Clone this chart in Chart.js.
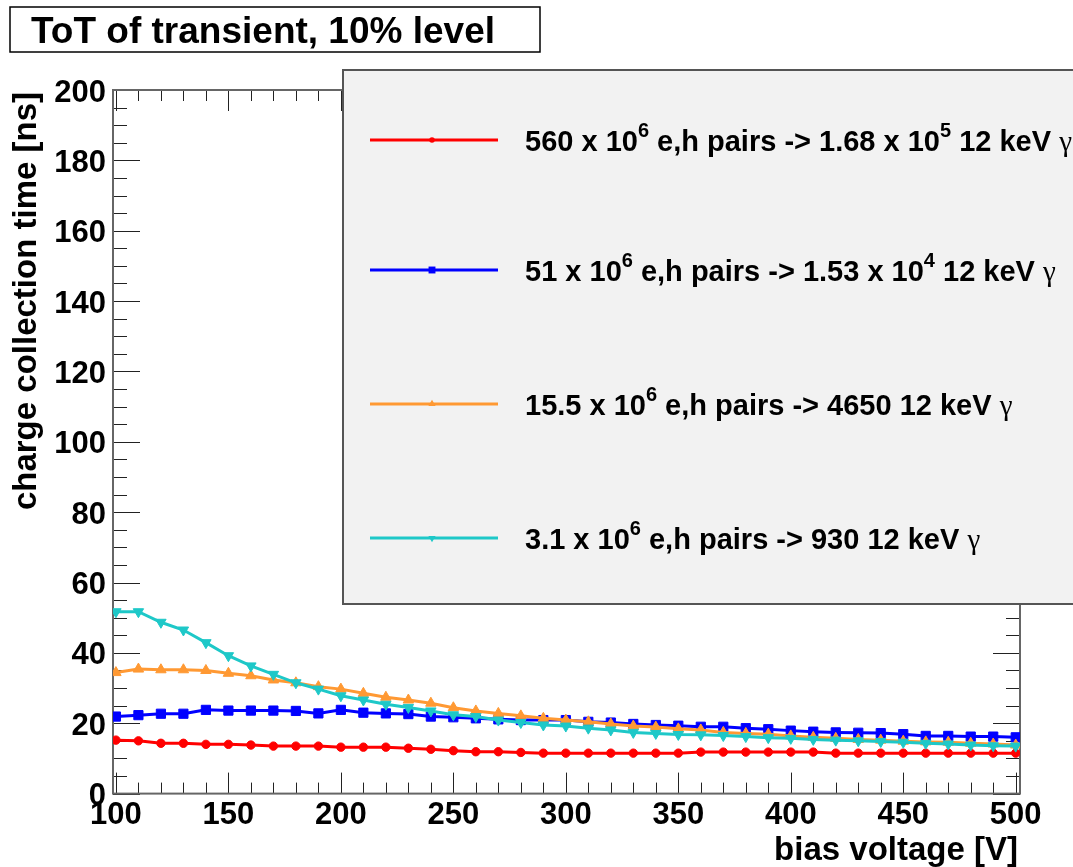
<!DOCTYPE html>
<html>
<head>
<meta charset="utf-8">
<title>ToT of transient, 10% level</title>
<script src="https://cdn.jsdelivr.net/npm/chart.js@4.4.1/dist/chart.umd.min.js"></script>
<style>
  html, body { margin: 0; padding: 0; background: #fff; }
  canvas { display: block; }
</style>
</head>
<body>
<canvas id="tot" width="1073" height="867"></canvas>
<script>
// bias voltage scan [V]
const voltages = [100, 110, 120, 130, 140, 150, 160, 170, 180, 190,
                  200, 210, 220, 230, 240, 250, 260, 270, 280, 290,
                  300, 310, 320, 330, 340, 350, 360, 370, 380, 390,
                  400, 410, 420, 430, 440, 450, 460, 470, 480, 490, 500];

// charge collection time [ns] for each injected charge
const tot560 = [15.2, 15.0, 14.3, 14.3, 14.0, 14.0, 13.8, 13.5, 13.5, 13.5,
                13.2, 13.2, 13.2, 12.9, 12.6, 12.2, 11.9, 11.9, 11.7, 11.5,
                11.5, 11.5, 11.5, 11.5, 11.5, 11.5, 11.8, 11.8, 11.8, 11.8,
                11.8, 11.8, 11.5, 11.5, 11.5, 11.5, 11.5, 11.5, 11.5, 11.5, 11.5];
const tot51 = [21.9, 22.3, 22.7, 22.7, 23.8, 23.6, 23.6, 23.6, 23.5, 22.8,
               23.8, 23.0, 22.8, 22.6, 21.9, 21.7, 21.4, 21.1, 20.9, 20.9,
               20.9, 20.4, 20.2, 19.8, 19.5, 19.3, 19.0, 19.0, 18.6, 18.3,
               17.9, 17.6, 17.4, 17.3, 17.2, 16.9, 16.4, 16.4, 16.2, 16.2, 16.0];
const tot15 = [34.4, 35.4, 35.2, 35.2, 35.0, 34.2, 33.5, 32.3, 31.5, 30.4,
               29.7, 28.5, 27.4, 26.6, 25.7, 24.4, 23.5, 22.8, 22.1, 21.4,
               20.9, 20.4, 19.8, 19.2, 18.9, 18.4, 18.1, 17.4, 17.1, 16.9,
               16.4, 16.0, 15.7, 15.4, 15.2, 14.9, 14.7, 14.6, 14.3, 14.1, 13.8];
const tot3 = [51.7, 51.7, 48.7, 46.5, 42.9, 39.2, 36.3, 33.9, 31.5, 29.7,
              27.8, 26.6, 25.4, 24.5, 23.5, 22.4, 21.9, 20.9, 20.2, 19.5,
              19.2, 18.6, 18.1, 17.4, 17.1, 16.8, 16.7, 16.5, 16.2, 15.9,
              15.7, 15.4, 15.2, 15.0, 14.8, 14.6, 14.3, 14.1, 13.8, 13.6, 13.5];

const seriesLabels = [
  "560 x 10^6 e,h pairs -> 1.68 x 10^5 12 keV γ",
  "51 x 10^6 e,h pairs -> 1.53 x 10^4 12 keV γ",
  "15.5 x 10^6 e,h pairs -> 4650 12 keV γ",
  "3.1 x 10^6 e,h pairs -> 930 12 keV γ"
];

const xTicks = [100, 150, 200, 250, 300, 350, 400, 450, 500];
const yTicks = [0, 20, 40, 60, 80, 100, 120, 140, 160, 180, 200];

const titleText = "ToT of transient, 10% level";
const xTitle = "bias voltage [V]";
const yTitle = "charge collection time [ns]";

const FONT = '"Liberation Sans", Arial, Helvetica, sans-serif';

const styles = [
  { color: '#ff0000', point: 'circle', radius: 4.2, legendRadius: 2.8 },
  { color: '#0000ff', point: 'rect', radius: 6.5, legendRadius: 4.6 },
  { color: '#ff9933', point: 'triangle', radius: 6.0, legendRadius: 4.2 },
  { color: '#1ec8c8', point: 'triangleDown', radius: 6.0, legendRadius: 4.2 }
];
const seriesValues = [tot560, tot51, tot15, tot3];

const datasets = seriesValues.map((vals, i) => {
  const s = styles[i];
  const tri = s.point === 'triangleDown';
  return {
    label: seriesLabels[i],
    data: voltages.map((v, k) => ({ x: v, y: vals[k] })),
    borderColor: s.color,
    backgroundColor: s.color,
    borderWidth: 3,
    tension: 0,
    pointStyle: tri ? 'triangle' : s.point,
    rotation: tri ? 180 : 0,
    pointRadius: s.radius,
    pointBorderWidth: 1,
    pointBorderColor: s.color,
    pointBackgroundColor: s.color,
    order: seriesValues.length - i
  };
});

// small marker shapes for the legend box
function marker(ctx, kind, x, y, r) {
  ctx.beginPath();
  if (kind === 'circle') {
    ctx.arc(x, y, r, 0, Math.PI * 2);
  } else if (kind === 'rect') {
    ctx.rect(x - r * 0.75, y - r * 0.75, r * 1.5, r * 1.5);
  } else if (kind === 'triangle') {
    ctx.moveTo(x, y - r); ctx.lineTo(x + r * 0.87, y + r * 0.5); ctx.lineTo(x - r * 0.87, y + r * 0.5);
  } else {
    ctx.moveTo(x, y + r); ctx.lineTo(x + r * 0.87, y - r * 0.5); ctx.lineTo(x - r * 0.87, y - r * 0.5);
  }
  ctx.closePath();
  ctx.fill();
}

// label text with ^n superscripts and a plain-weight gamma
function richText(ctx, text, x, baseline, size) {
  const parts = text.split(/(\^\d+|γ)/).filter(p => p.length);
  for (const p of parts) {
    let y = baseline;
    let str = p;
    if (p[0] === '^') {
      ctx.font = `bold ${Math.round(size * 0.68)}px ${FONT}`;
      str = p.slice(1);
      y = baseline - size * 0.5;
    } else if (p === 'γ') {
      ctx.font = `${size}px "Liberation Serif", "Times New Roman", serif`;
    } else {
      ctx.font = `bold ${size}px ${FONT}`;
    }
    ctx.fillText(str, x, y);
    x += ctx.measureText(str).width;
  }
}

const frameAndTicks = {
  id: 'frameAndTicks',
  beforeDatasetsDraw(chart) {
    const { ctx, chartArea: a, scales: { x, y } } = chart;
    ctx.save();
    ctx.strokeStyle = '#222';
    ctx.lineWidth = 1;
    ctx.beginPath();
    for (let v = xTicks[0]; v <= xTicks[xTicks.length - 1]; v += 10) {
      const px = Math.round(x.getPixelForValue(v)) + 0.5;
      const len = xTicks.includes(v) ? 21 : 11;
      ctx.moveTo(px, a.bottom); ctx.lineTo(px, a.bottom - len);
      ctx.moveTo(px, a.top); ctx.lineTo(px, a.top + len);
    }
    for (let v = yTicks[0]; v <= yTicks[yTicks.length - 1]; v += 5) {
      const py = Math.round(y.getPixelForValue(v)) + 0.5;
      const len = yTicks.includes(v) ? 27 : 14;
      ctx.moveTo(a.left, py); ctx.lineTo(a.left + len, py);
      ctx.moveTo(a.right, py); ctx.lineTo(a.right - len, py);
    }
    ctx.stroke();
    ctx.strokeStyle = '#666';
    ctx.lineWidth = 2;
    ctx.strokeRect(a.left, a.top, a.right - a.left, a.bottom - a.top);
    ctx.restore();
  }
};

const decorations = {
  id: 'decorations',
  afterDraw(chart) {
    const { ctx, chartArea: a } = chart;
    ctx.save();

    // title box
    ctx.fillStyle = '#fff';
    ctx.fillRect(10, 7, 530, 45);
    ctx.strokeStyle = '#000';
    ctx.lineWidth = 1.5;
    ctx.strokeRect(10, 7, 530, 45);
    ctx.fillStyle = '#000';
    ctx.font = `bold 37px ${FONT}`;
    ctx.textAlign = 'center';
    ctx.textBaseline = 'alphabetic';
    ctx.fillText(titleText, 263, 43);

    // axis titles, pushed to the far end of each axis
    ctx.font = `bold 33px ${FONT}`;
    ctx.textAlign = 'right';
    ctx.fillText(xTitle, a.right - 2, 860);
    ctx.save();
    ctx.translate(36, a.top + 2);
    ctx.rotate(-Math.PI / 2);
    ctx.fillText(yTitle, 0, 0);
    ctx.restore();

    // legend box
    ctx.fillStyle = '#f2f2f2';
    ctx.fillRect(343, 70, 760, 534);
    ctx.strokeStyle = '#555';
    ctx.lineWidth = 2;
    ctx.strokeRect(343, 70, 760, 534);

    const rows = [140, 270, 404, 538];
    ctx.textAlign = 'left';
    seriesLabels.forEach((label, i) => {
      const s = styles[i];
      const ry = rows[i];
      ctx.strokeStyle = s.color;
      ctx.fillStyle = s.color;
      ctx.lineWidth = 3;
      ctx.beginPath();
      ctx.moveTo(370, ry); ctx.lineTo(498, ry);
      ctx.stroke();
      marker(ctx, s.point, 432, ry, s.legendRadius);
      ctx.fillStyle = '#000';
      richText(ctx, label, 525, ry + 11, 29);
    });
    ctx.restore();
  }
};

new Chart(document.getElementById('tot'), {
  type: 'line',
  data: { datasets },
  options: {
    responsive: false,
    animation: false,
    devicePixelRatio: 1,
    layout: { padding: { top: 90, right: 53, left: 0, bottom: 0 } },
    plugins: { legend: { display: false }, tooltip: { enabled: false }, title: { display: false } },
    scales: {
      x: {
        type: 'linear',
        min: 98.7,
        max: 501.9,
        grid: { display: false, drawTicks: false },
        border: { display: false },
        afterBuildTicks: axis => { axis.ticks = xTicks.map(v => ({ value: v })); },
        afterFit: axis => { axis.height = 73.4; },
        ticks: {
          autoSkip: false,
          maxRotation: 0,
          padding: 3,
          color: '#000',
          font: { family: FONT, size: 31, weight: 'bold' }
        }
      },
      y: {
        type: 'linear',
        min: 0,
        max: 200,
        grid: { display: false, drawTicks: false },
        border: { display: false },
        afterBuildTicks: axis => { axis.ticks = yTicks.map(v => ({ value: v })); },
        afterFit: axis => { axis.width = 113; },
        ticks: {
          padding: 7,
          labelOffset: 3,
          color: '#000',
          font: { family: FONT, size: 31, weight: 'bold' }
        }
      }
    }
  },
  plugins: [frameAndTicks, decorations]
});
</script>
</body>
</html>
